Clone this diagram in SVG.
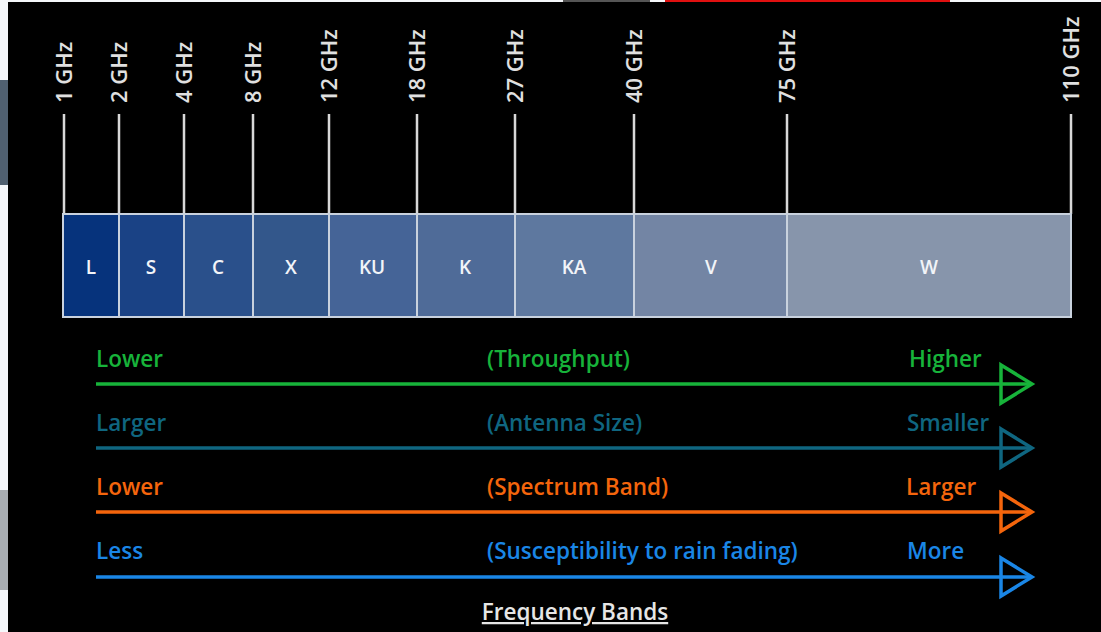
<svg xmlns="http://www.w3.org/2000/svg" width="1101" height="632" viewBox="0 0 1101 632">
<style>
.tick{stroke:#d8d8d8;stroke-width:2.5}
.tl{font-family:"Open Sans","Liberation Sans",sans-serif;font-size:22px;font-weight:600;fill:#e0e0e0}
.band{stroke:#c9d2de;stroke-width:2}
.bl{font-family:"Open Sans","Liberation Sans",sans-serif;font-size:19px;font-weight:600;fill:#f2f4f8;text-anchor:middle}
.lab{font-family:"Open Sans","Liberation Sans",sans-serif;font-size:22.5px;font-weight:600}
.arr{stroke-width:3.5;fill:none}
.head{stroke-width:3.5;fill:none;stroke-linejoin:miter}
</style>
<rect x="0" y="0" width="1101" height="632" fill="#f5f7fa"/>
<rect x="0" y="80" width="8" height="105" fill="#506070"/>
<rect x="0" y="490" width="8" height="100" fill="#a8adb2"/>
<rect x="8" y="2" width="1093" height="630" fill="#000"/>
<rect x="563" y="0" width="87" height="2" fill="#555"/>
<rect x="665" y="0" width="285" height="2" fill="#e01010"/>

<g id="ticks">
<line class="tick" x1="64" y1="114" x2="64" y2="214"/>
<line class="tick" x1="119" y1="114" x2="119" y2="214"/>
<line class="tick" x1="184" y1="114" x2="184" y2="214"/>
<line class="tick" x1="253" y1="114" x2="253" y2="214"/>
<line class="tick" x1="329" y1="114" x2="329" y2="214"/>
<line class="tick" x1="417" y1="114" x2="417" y2="214"/>
<line class="tick" x1="515" y1="114" x2="515" y2="214"/>
<line class="tick" x1="634" y1="114" x2="634" y2="214"/>
<line class="tick" x1="787" y1="114" x2="787" y2="214"/>
<line class="tick" x1="1071" y1="114" x2="1071" y2="214"/>
<text class="tl" transform="translate(72,103) rotate(-90)">1 GHz</text>
<text class="tl" transform="translate(127,103) rotate(-90)">2 GHz</text>
<text class="tl" transform="translate(192,103) rotate(-90)">4 GHz</text>
<text class="tl" transform="translate(261,103) rotate(-90)">8 GHz</text>
<text class="tl" transform="translate(337,103) rotate(-90)">12 GHz</text>
<text class="tl" transform="translate(425,103) rotate(-90)">18 GHz</text>
<text class="tl" transform="translate(523,103) rotate(-90)">27 GHz</text>
<text class="tl" transform="translate(642,103) rotate(-90)">40 GHz</text>
<text class="tl" transform="translate(795,103) rotate(-90)">75 GHz</text>
<text class="tl" transform="translate(1079,103) rotate(-90)">110 GHz</text>
</g>

<g id="band-L"><rect class="band" x="63" y="214" width="56" height="103" fill="#06337c"/><text class="bl" x="91" y="274">L</text></g>
<g id="band-S"><rect class="band" x="119" y="214" width="65" height="103" fill="#1a4285"/><text class="bl" x="151" y="274">S</text></g>
<g id="band-C"><rect class="band" x="184" y="214" width="69" height="103" fill="#2a508b"/><text class="bl" x="218" y="274">C</text></g>
<g id="band-X"><rect class="band" x="253" y="214" width="76" height="103" fill="#33578b"/><text class="bl" x="291" y="274">X</text></g>
<g id="band-KU"><rect class="band" x="329" y="214" width="88" height="103" fill="#456497"/><text class="bl" x="372" y="274">KU</text></g>
<g id="band-K"><rect class="band" x="417" y="214" width="98" height="103" fill="#4f6b98"/><text class="bl" x="465" y="274">K</text></g>
<g id="band-KA"><rect class="band" x="515" y="214" width="119" height="103" fill="#5e789f"/><text class="bl" x="574" y="274">KA</text></g>
<g id="band-V"><rect class="band" x="634" y="214" width="153" height="103" fill="#7385a4"/><text class="bl" x="711" y="274">V</text></g>
<g id="band-W"><rect class="band" x="787" y="214" width="284" height="103" fill="#8795ab"/><text class="bl" x="929" y="274">W</text></g>

<g id="connectors">
<line class="arr" x1="96" y1="384" x2="1030" y2="384" stroke="#17b33a"/>
<polygon class="head" points="1001,365 1032,384 1001,403" stroke="#17b33a"/>
<line class="arr" x1="96" y1="448" x2="1030" y2="448" stroke="#0f6680"/>
<polygon class="head" points="1001,429 1032,448 1001,467" stroke="#0f6680"/>
<line class="arr" x1="96" y1="512" x2="1030" y2="512" stroke="#f4650c"/>
<polygon class="head" points="1001,493 1032,512 1001,531" stroke="#f4650c"/>
<line class="arr" x1="96" y1="577" x2="1030" y2="577" stroke="#1a86e6"/>
<polygon class="head" points="1001,558 1032,577 1001,596" stroke="#1a86e6"/>
</g>

<g id="throughput" class="lab" fill="#17b33a">
<text x="96" y="367">Lower</text>
<text x="487" y="367">(Throughput)</text>
<text x="909" y="367">Higher</text>
</g>
<g id="antenna" class="lab" fill="#0f6680">
<text x="96" y="431">Larger</text>
<text x="487" y="431">(Antenna Size)</text>
<text x="907" y="431">Smaller</text>
</g>
<g id="spectrum" class="lab" fill="#f4650c">
<text x="96" y="495">Lower</text>
<text x="487" y="495">(Spectrum Band)</text>
<text x="906" y="495">Larger</text>
</g>
<g id="rain" class="lab" fill="#1a86e6">
<text x="96" y="559">Less</text>
<text x="487" y="559">(Susceptibility to rain fading)</text>
<text x="907" y="559">More</text>
</g>
<g id="title">
<text class="lab" x="575" y="620" text-anchor="middle" fill="#e6e6e6" text-decoration="underline">Frequency Bands</text>
</g>
</svg>
